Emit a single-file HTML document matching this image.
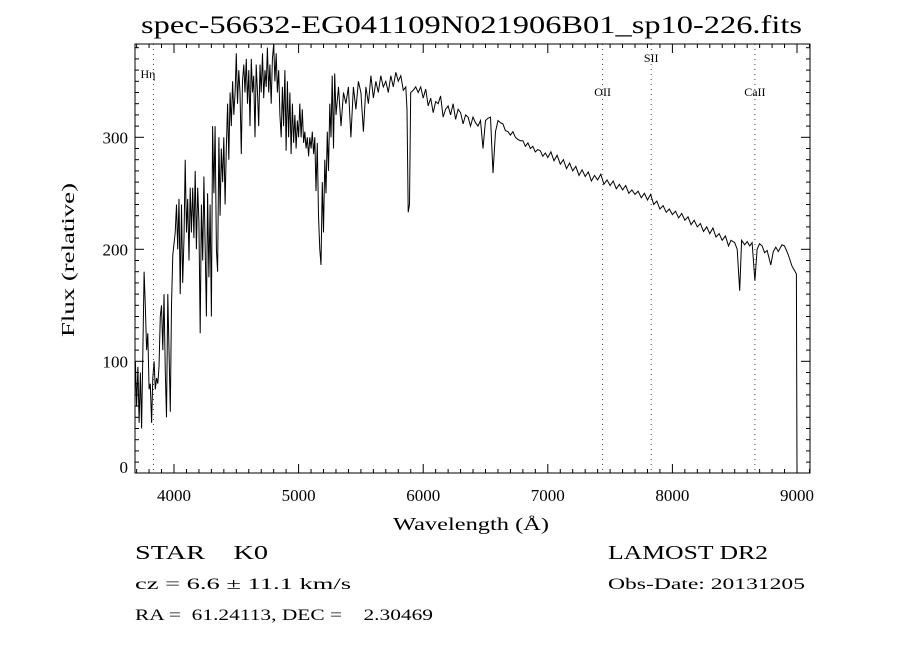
<!DOCTYPE html>
<html><head><meta charset="utf-8"><style>
html,body{margin:0;padding:0;background:#fff;}
svg{display:block;font-family:"Liberation Serif",serif;}
svg text{white-space:pre;}
</style></head><body>
<svg id="chart" width="900" height="650" viewBox="0 0 900 650" xmlns="http://www.w3.org/2000/svg" xml:space="preserve">
<rect width="900" height="650" fill="#fff"/>
<text x="141" y="33" font-size="25" textLength="661" lengthAdjust="spacingAndGlyphs">spec-56632-EG041109N021906B01_sp10-226.fits</text>
<g id="ticks"></g>
<g id="lines"></g>
<polyline id="spec" fill="none" stroke="#000" stroke-width="1"/>
<rect x="135" y="44" width="675" height="429" fill="none" stroke="#000" stroke-width="1"/>
<g id="xlabels" font-size="17"></g>
<g id="ylabels" font-size="17"></g>
<text x="393" y="530" font-size="18" textLength="156" lengthAdjust="spacingAndGlyphs">Wavelength (Å)</text>
<text transform="translate(74,337) rotate(-90)" font-size="18" textLength="154" lengthAdjust="spacingAndGlyphs">Flux (relative)</text>
<text x="135" y="559" font-size="20" textLength="133" lengthAdjust="spacingAndGlyphs">STAR    K0</text>
<text x="608" y="559" font-size="20" textLength="160" lengthAdjust="spacingAndGlyphs">LAMOST DR2</text>
<text x="135" y="589" font-size="16" textLength="216" lengthAdjust="spacingAndGlyphs">cz = 6.6 ± 11.1 km/s</text>
<text x="608" y="589" font-size="16" textLength="197" lengthAdjust="spacingAndGlyphs">Obs-Date: 20131205</text>
<text x="135" y="620" font-size="16" textLength="298" lengthAdjust="spacingAndGlyphs">RA =  61.24113, DEC =    2.30469</text>
</svg>
<script>
const wave=[3690,3700,3710,3720,3730,3740,3750,3760,3770,3780,3790,3800,3810,3820,3830,3840,3850,3860,3870,3880,3890,3900,3910,3920,3930,3940,3950,3960,3970,3980,3990,4000,4010,4020,4030,4040,4050,4060,4070,4080,4090,4100,4110,4120,4130,4140,4150,4160,4170,4180,4190,4200,4210,4220,4230,4240,4250,4260,4270,4280,4290,4300,4310,4320,4330,4340,4350,4360,4370,4380,4390,4400,4410,4420,4430,4440,4450,4460,4470,4480,4490,4500,4510,4520,4530,4540,4550,4560,4570,4580,4590,4600,4610,4620,4630,4640,4650,4660,4670,4680,4690,4700,4710,4720,4730,4740,4750,4760,4770,4780,4790,4800,4810,4820,4830,4840,4850,4860,4870,4880,4890,4900,4910,4920,4930,4940,4950,4960,4970,4980,4990,5000,5010,5020,5030,5040,5050,5060,5070,5080,5090,5100,5110,5120,5130,5140,5150,5160,5170,5180,5190,5200,5210,5220,5230,5240,5250,5260,5270,5280,5290,5300,5320,5340,5360,5380,5400,5420,5440,5460,5480,5500,5520,5540,5560,5580,5600,5620,5640,5660,5680,5700,5720,5740,5760,5780,5800,5820,5840,5860,5870,5880,5890,5900,5920,5940,5960,5980,6000,6020,6040,6060,6080,6100,6120,6140,6160,6180,6200,6220,6240,6260,6280,6300,6320,6340,6360,6380,6400,6420,6440,6460,6480,6500,6520,6540,6560,6580,6600,6620,6640,6660,6680,6700,6720,6740,6760,6780,6800,6820,6840,6860,6880,6900,6920,6940,6960,6980,7000,7025,7050,7075,7100,7125,7150,7175,7200,7225,7250,7275,7300,7325,7350,7375,7400,7425,7450,7475,7500,7525,7550,7575,7600,7625,7650,7675,7700,7725,7750,7775,7800,7825,7850,7875,7900,7925,7950,7975,8000,8025,8050,8075,8100,8125,8150,8175,8200,8225,8250,8275,8300,8325,8350,8375,8400,8425,8450,8470,8500,8520,8540,8555,8580,8600,8620,8640,8662,8680,8700,8720,8740,8760,8790,8810,8830,8850,8880,8900,8930,8960,8995,9000];
const flux=[100,60,95,45,90,40,105,180,150,110,125,75,80,45,85,100,75,85,80,95,140,150,110,160,90,50,160,110,55,150,195,205,215,240,200,245,160,240,170,210,280,215,245,190,255,215,255,210,270,200,255,225,125,240,190,265,200,140,250,175,240,140,310,250,310,200,180,300,230,290,260,300,240,290,330,280,340,310,350,320,340,375,330,360,340,285,350,365,340,370,330,360,310,370,340,355,300,365,340,310,365,340,375,335,360,345,380,340,365,330,370,385,350,375,340,360,320,300,345,310,360,288,350,300,340,285,330,295,320,290,315,300,330,300,325,295,305,290,300,283,300,290,305,285,300,252,295,230,200,186,260,215,280,250,305,270,330,300,355,290,357,320,345,310,340,330,345,300,345,325,350,340,305,345,330,355,335,350,340,355,345,350,340,355,345,358,350,355,342,345,325,233,240,340,342,345,340,345,335,343,328,335,322,332,330,337,318,325,328,320,330,316,325,322,312,320,318,310,318,313,310,315,290,315,317,318,268,305,315,313,312,306,305,302,305,300,298,297,297,292,295,290,292,287,289,288,283,286,282,287,279,284,276,280,272,277,270,274,266,271,265,269,261,266,262,267,258,262,257,261,254,258,253,257,250,253,249,252,246,250,244,249,240,243,236,239,233,236,231,234,228,232,226,229,222,226,220,223,216,220,214,219,211,214,208,212,203,208,206,200,163,208,204,207,203,206,172,200,205,203,197,199,186,198,202,198,204,203,195,185,178,0];
const xTicks=[4000,5000,6000,7000,8000,9000];
const yTicks=[0,100,200,300];
const lineNames=["Hη","OII","SII","CaII"];
const lineWaves=[3835,7440,7830,8662];
const lineLabelY=[78,96,62,96];

const X0=135,X1=810,Y0=44,Y1=473;
const xs=w=>174+(w-4000)*0.1246;
const ys=f=>473.3-f*1.12;
const NS="http://www.w3.org/2000/svg";
function mk(tag,attrs,parent){const e=document.createElementNS(NS,tag);for(const k in attrs)e.setAttribute(k,attrs[k]);parent.appendChild(e);return e;}

const pts=wave.map((w,i)=>xs(w).toFixed(1)+","+Math.min(473,Math.max(44,ys(flux[i]))).toFixed(1)).join(" ");
document.getElementById("spec").setAttribute("points",pts);

const tg=document.getElementById("ticks");
for(let w=3700;w<=9100;w+=100){
  const x=xs(w); if(x<X0||x>X1) continue;
  const L=(w%1000===0)?9:4;
  const t1=mk("line",{x1:x,x2:x,y1:Y1,y2:Y1-L,stroke:"#000"},tg);
  
  
  const t2=mk("line",{x1:x,x2:x,y1:Y0,y2:Y0+L,stroke:"#000"},tg);
  
  
}
for(let f=0;f<=380;f+=10){
  const y=ys(f); if(y<Y0||y>Y1) continue;
  const L=(f%100===0)?9:4;
  const t1=mk("line",{x1:X0,x2:X0+L,y1:y,y2:y,stroke:"#000"},tg);
  
  
  const t2=mk("line",{x1:X1,x2:X1-L,y1:y,y2:y,stroke:"#000"},tg);
  
  
}
const xl=document.getElementById("xlabels");
xTicks.forEach(w=>{
  const t=mk("text",{x:xs(w),y:501,"text-anchor":"middle"},xl);
  
  
  t.textContent=w;
});
const yl=document.getElementById("ylabels");
yTicks.forEach(f=>{
  const y=f===0?473:ys(f)+6;
  const t=mk("text",{x:128,y:y,"text-anchor":"end"},yl);
  
  
  t.textContent=f;
});
const lg=document.getElementById("lines");
lineWaves.forEach((w,i)=>{
  const x=xs(w);
  const l=mk("line",{x1:x,x2:x,y1:Y0,y2:Y1,stroke:"#6b3030","stroke-width":1,"stroke-dasharray":"1,4"},lg);
  
  
  const t=mk("text",{x:i===0?x-13:x,y:lineLabelY[i],"font-size":12,"text-anchor":i===0?"start":"middle"},lg);
  
  
  t.textContent=lineNames[i];
});
</script>
</body></html>
